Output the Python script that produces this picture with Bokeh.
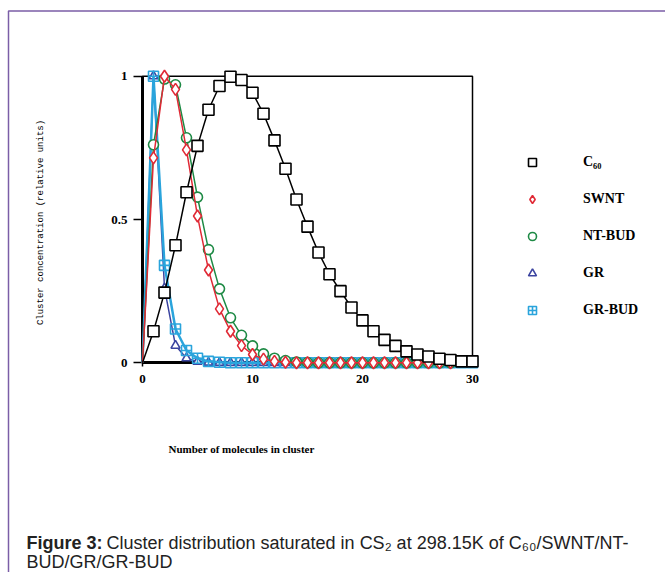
import numpy as np
from bokeh.plotting import figure
from bokeh.models import Range1d, FixedTicker, Label, Legend, LegendItem, BoxAnnotation
from bokeh.embed import file_html
from bokeh.resources import INLINE

# ---------------- data ----------------
n_c60 = list(range(0, 31))
c60 = [0, 0.11, 0.245, 0.41, 0.595, 0.757, 0.883, 0.966, 0.998, 0.987, 0.942,
       0.869, 0.776, 0.677, 0.57, 0.475, 0.385, 0.309, 0.25, 0.193, 0.148,
       0.11, 0.08, 0.059, 0.04, 0.029, 0.022, 0.014, 0.01, 0.005, 0.005]

n_swnt = list(range(0, 29))
swnt = [0, 0.715, 1.0, 0.954, 0.743, 0.512, 0.324, 0.188, 0.11, 0.06, 0.029,
        0.013, 0.005, 0.002, 0, 0, 0, 0, 0, 0, 0, 0, 0, 0, 0, 0, 0, 0, 0]

n_ntbud = list(range(0, 29))
ntbud = [0, 0.761, 0.99, 0.97, 0.785, 0.578, 0.395, 0.258, 0.157, 0.096, 0.059,
         0.031, 0.016, 0.008, 0.003, 0.001, 0, 0, 0, 0, 0, 0, 0, 0, 0, 0, 0, 0, 0]

n_gr = list(range(0, 31))
gr = [0, 1.0, 0.26, 0.06, 0.016, 0.004, 0.001] + [0] * 24

n_grbud = list(range(0, 31))
grbud = [0, 1.0, 0.34, 0.118, 0.043, 0.016, 0.005, 0.002] + [0] * 23

x_ticks = [0, 10, 20, 30]
y_ticks = [0, 0.5, 1]
y_tick_labels = ["0", "0.5", "1"]

series_names = ["C\u2086\u2080", "SWNT", "NT-BUD", "GR", "GR-BUD"]

# ---------------- figure (frame = whole canvas) ----------------
W, H = 665, 572
X0_PX, PX_PER_X = 142.0, 11.0          # pixel of x=0, pixels per unit
Y0_PX, PX_PER_Y = 362.3, 286.6         # pixel of y=0, pixels per unit

p = figure(width=W, height=H, min_border=0,
           x_range=Range1d(-X0_PX / PX_PER_X, (W - X0_PX) / PX_PER_X),
           y_range=Range1d(-(H - Y0_PX) / PX_PER_Y, Y0_PX / PX_PER_Y),
           output_backend="svg", toolbar_location=None)
p.outline_line_color = None
p.grid.visible = False
p.background_fill_color = "white"
p.border_fill_color = "white"

serif = "Liberation Serif"

p.xaxis.ticker = FixedTicker(ticks=x_ticks)
p.xaxis.bounds = (x_ticks[0], x_ticks[-1])
p.xaxis.fixed_location = 0
p.yaxis.ticker = FixedTicker(ticks=y_ticks)
p.yaxis.bounds = (y_ticks[0], y_ticks[-1])
p.yaxis.fixed_location = 0
p.yaxis.major_label_overrides = {t: l for t, l in zip(y_ticks, y_tick_labels)}
for ax in (p.xaxis[0], p.yaxis[0]):
    ax.axis_line_width = 3
    ax.axis_line_color = "black"
    ax.major_tick_in = 0
    ax.major_tick_line_width = 1.5
    ax.minor_tick_line_color = None
    ax.major_label_text_font = serif
    ax.major_label_text_font_style = "bold"
    ax.major_label_text_color = "black"
    ax.major_label_text_font_size = "13px"
    ax.level = "underlay"
p.xaxis.major_tick_out = 4
p.xaxis.major_label_standoff = 8
p.yaxis.major_tick_out = 9
p.yaxis.major_label_standoff = 6

# thin box (top/right edges)
p.add_layout(BoxAnnotation(left=x_ticks[0], right=x_ticks[-1], bottom=y_ticks[0], top=y_ticks[-1],
                           fill_alpha=0, line_color="black", line_alpha=1.0,
                           line_width=1.5, level="underlay"))

# ---------------- series ----------------
def add_series(xs, ys, color, marker, size, fill="white", fill_alpha=1.0, lw=1.5):
    p.line(xs, ys, line_color=color, line_width=lw)
    r = p.scatter(xs[1:], ys[1:], marker=marker, size=size, line_color=color,
                  line_width=1.6, fill_color=fill, fill_alpha=fill_alpha)
    return r

r_gr = add_series(n_gr, gr, "#3b44a0", "triangle", 9)
r_grbud = add_series(n_grbud, grbud, "#2aa4dc", "square_cross", 10, fill_alpha=0.0, lw=2.5)
r_nt = add_series(n_ntbud, ntbud, "#1e8a45", "circle", 10)
r_sw = add_series(n_swnt, swnt, "#e02a36", "diamond", 12)
r_c60 = add_series(n_c60, c60, "black", "square", 11)

legend = Legend(items=[LegendItem(label=series_names[0], renderers=[r_c60]),
                       LegendItem(label=series_names[1], renderers=[r_sw]),
                       LegendItem(label=series_names[2], renderers=[r_nt]),
                       LegendItem(label=series_names[3], renderers=[r_gr]),
                       LegendItem(label=series_names[4], renderers=[r_grbud])],
                location=(522, H - 320), glyph_width=20, glyph_height=20,
                label_standoff=41, spacing=17, padding=0, margin=0,
                border_line_color=None, background_fill_alpha=0,
                label_text_font=serif, label_text_font_style="bold",
                label_text_font_size="14px", label_text_color="black")
p.add_layout(legend)

# ---------------- texts (screen units, from bottom-left) ----------------
def sx(cx):
    return cx

def sy(cy):
    return H - cy

p.add_layout(Label(x=sx(40), y=sy(222), x_units="screen", y_units="screen",
                   text="Cluster concentration (relative units)", angle=90, angle_units="deg",
                   text_align="center", text_baseline="middle",
                   text_font="Liberation Mono", text_font_size="9px", text_color="black"))
p.add_layout(Label(x=sx(241), y=sy(448), x_units="screen", y_units="screen",
                   text="Number of molecules in cluster", text_align="center",
                   text_baseline="middle", text_font=serif, text_font_style="bold",
                   text_font_size="11px", text_color="black"))

cap_font = "Liberation Sans"
cap_size = "18px"
p.add_layout(Label(x=sx(26), y=sy(542), x_units="screen", y_units="screen",
                   text="Figure 3:", text_font=cap_font, text_font_style="bold",
                   text_font_size=cap_size, text_color="#222222", text_baseline="middle"))
p.add_layout(Label(x=sx(106), y=sy(542), x_units="screen", y_units="screen",
                   text="Cluster distribution saturated in CS\u2082 at 298.15K of C\u2086\u2080/SWNT/NT-",
                   text_font=cap_font, text_font_size=cap_size, text_color="#222222",
                   text_baseline="middle"))
p.add_layout(Label(x=sx(26), y=sy(561.5), x_units="screen", y_units="screen",
                   text="BUD/GR/GR-BUD", text_font=cap_font, text_font_size=cap_size,
                   text_color="#222222", text_baseline="middle"))

# purple page frame (top and left edges)
p.add_layout(BoxAnnotation(left=sx(8), right=sx(720), top=sy(10.5), bottom=sy(640),
                           left_units="screen", right_units="screen",
                           top_units="screen", bottom_units="screen",
                           fill_alpha=0, line_color="#7b5ea7", line_alpha=1.0,
                           line_width=1.5))

open("out.html", "w").write(file_html(p, INLINE))
